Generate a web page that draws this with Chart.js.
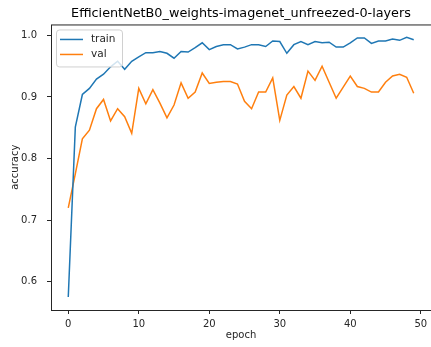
<!DOCTYPE html>
<html>
<head>
<meta charset="utf-8">
<script src="https://cdn.jsdelivr.net/npm/chart.js@4.4.1/dist/chart.umd.min.js"></script>
<style>
    html, body { margin: 0; padding: 0; background: #fff; }
    #wrap { width: 431px; height: 347px; }
</style>
</head>
<body>
<div id="wrap"><canvas id="acc-chart" width="431" height="347"></canvas></div>
<script>
// data
const epochs = Array.from({ length: 50 }, (_, i) => i);
const trainAcc = [
    0.575, 0.851, 0.904, 0.914, 0.929, 0.937, 0.949, 0.958, 0.945, 0.958,
    0.965, 0.972, 0.972, 0.974, 0.971, 0.963, 0.974, 0.973, 0.980, 0.988,
    0.977, 0.982, 0.985, 0.985, 0.978, 0.981, 0.985, 0.985, 0.982, 0.991,
    0.990, 0.971, 0.985, 0.990, 0.985, 0.990, 0.988, 0.989, 0.981, 0.981,
    0.988, 0.996, 0.996, 0.987, 0.991, 0.991, 0.994, 0.992, 0.997, 0.993,
];
const valAcc = [
    0.720, 0.775, 0.832, 0.846, 0.881, 0.896, 0.861, 0.881, 0.868, 0.841,
    0.914, 0.889, 0.912, 0.890, 0.866, 0.887, 0.923, 0.898, 0.908, 0.939,
    0.922, 0.924, 0.925, 0.925, 0.921, 0.893, 0.881, 0.908, 0.908, 0.931,
    0.862, 0.903, 0.917, 0.898, 0.942, 0.927, 0.950, 0.924, 0.898, 0.916,
    0.934, 0.917, 0.914, 0.908, 0.908, 0.924, 0.934, 0.937, 0.932, 0.906,
];
const xTicks = [0, 10, 20, 30, 40, 50];
const yTicks = [0.6, 0.7, 0.8, 0.9, 1.0];
const seriesNames = ["train", "val"];
const seriesColors = ["#1f77b4", "#ff7f0e"];

const FONT = "'DejaVu Sans', sans-serif";

// bingkai + legenda ala matplotlib
const framePlugin = {
    id: "frame",
    afterDraw(chart) {
        const { ctx, chartArea: a } = chart;
        ctx.save();
        ctx.strokeStyle = "#262626";
        ctx.lineWidth = 1;
        ctx.strokeRect(a.left + 0.5, a.top + 0.5, a.right - a.left, a.bottom - a.top);

        // legenda
        const bx = a.left + 5, by = a.top + 5, bw = 66, bh = 37;
        ctx.fillStyle = "rgba(255,255,255,0.8)";
        ctx.strokeStyle = "#d0d0d0";
        ctx.beginPath();
        ctx.roundRect(bx + 0.5, by + 0.5, bw, bh, 3);
        ctx.fill();
        ctx.stroke();
        ctx.font = "10.5px " + FONT;
        ctx.textBaseline = "middle";
        seriesNames.forEach((name, i) => {
            const y = by + 10 + i * 15;
            ctx.strokeStyle = seriesColors[i];
            ctx.lineWidth = 1.5;
            ctx.beginPath();
            ctx.moveTo(bx + 4, y);
            ctx.lineTo(bx + 27, y);
            ctx.stroke();
            ctx.fillStyle = "#262626";
            ctx.fillText(name, bx + 35, y);
        });
        ctx.restore();
    },
};

document.addEventListener("DOMContentLoaded", function () {
    const ctx = document.getElementById("acc-chart").getContext("2d");
    new Chart(ctx, {
        type: "line",
        data: {
            labels: epochs,
            datasets: seriesNames.map((name, i) => ({
                label: name,
                data: (i === 0 ? trainAcc : valAcc).map((v, j) => ({ x: epochs[j], y: v })),
                borderColor: seriesColors[i],
                backgroundColor: seriesColors[i],
                borderWidth: 1.5,
                pointRadius: 0,
                tension: 0,
            })),
        },
        options: {
            responsive: false,
            animation: false,
            layout: { padding: { right: -3 } },
            plugins: {
                legend: { display: false },
                tooltip: { enabled: false },
                title: {
                    display: true,
                    fullSize: false,
                    text: "EfficientNetB0_weights-imagenet_unfreezed-0-layers",
                    color: "#000",
                    font: { family: FONT, size: 12.8, weight: "normal" },
                    padding: { top: 6, bottom: 3.1 },
                },
            },
            scales: {
                x: {
                    type: "linear",
                    min: -2.45,
                    max: 51.45,
                    afterBuildTicks: (s) => { s.ticks = xTicks.map((v) => ({ value: v })); },
                    afterFit: (s) => { s.height = 37; s.paddingLeft = 0; s.paddingRight = 0; },
                    grid: { drawOnChartArea: false, drawTicks: true, tickLength: 4, color: "#262626" },
                    border: { display: false },
                    ticks: { color: "#262626", font: { family: FONT, size: 10 }, padding: 4, maxRotation: 0 },
                    title: { display: true, text: "epoch", color: "#262626", font: { family: FONT, size: 10 }, padding: { top: 0, bottom: 6 } },
                },
                y: {
                    min: 0.554,
                    max: 1.0178,
                    afterBuildTicks: (s) => { s.ticks = yTicks.map((v) => ({ value: v })); },
                    afterFit: (s) => { s.width = 51; },
                    grid: { drawOnChartArea: false, drawTicks: true, tickLength: 4, color: "#262626" },
                    border: { display: false },
                    ticks: {
                        color: "#262626",
                        font: { family: FONT, size: 10 },
                        padding: 10,
                        callback: (v) => v.toFixed(1),
                    },
                    title: { display: true, text: "accuracy", color: "#262626", font: { family: FONT, size: 10 }, padding: { top: 9, bottom: 0 } },
                },
            },
        },
        plugins: [framePlugin],
    });
});
</script>
</body>
</html>
